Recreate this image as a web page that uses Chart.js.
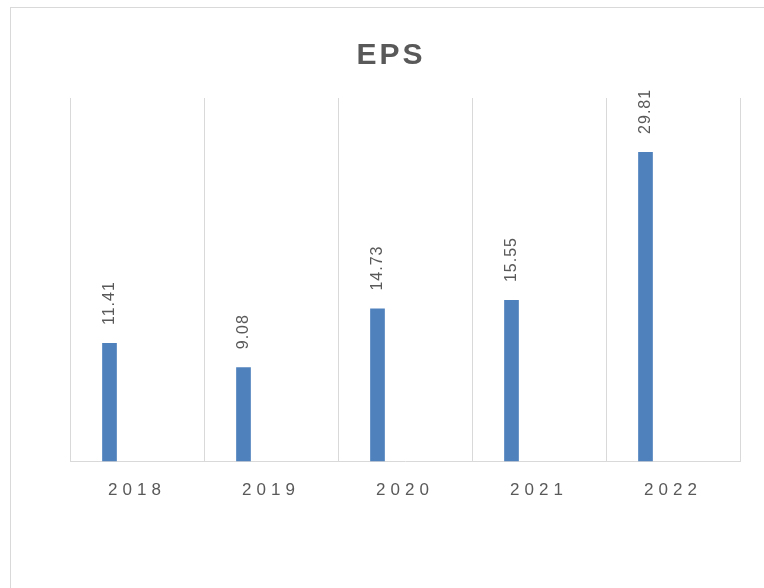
<!DOCTYPE html>
<html>
<head>
<meta charset="utf-8">
<script src="https://cdn.jsdelivr.net/npm/chart.js@4"></script>
<style>
  html, body { margin: 0; padding: 0; background: #fff; overflow: hidden; }
  #frame { position: absolute; left: 10px; top: 7px; width: 800px; height: 620px; border: 1px solid #d9d9d9; }
  #epsChart { position: absolute; left: 0; top: 0; }
</style>
</head>
<body>
<div id="frame">
  <canvas id="epsChart" width="760" height="580"></canvas>
</div>
<script>
// chart data
const years = ["2018", "2019", "2020", "2021", "2022"];
const epsValues = [11.41, 9.08, 14.73, 15.55, 29.81];
const emptySeries = [null, null, null, null, null]; // second (empty) series keeps bars left of centre
const yMin = 0;
const yMax = 35;

const textGray = "#595959";
const barBlue = "#4F81BD";
const lineGray = "#d9d9d9";
const fontFamily = "'Liberation Sans', Arial, sans-serif";

// letter spacing like the spreadsheet style, plus rotated value labels
const spacingAndLabels = {
  id: "spacingAndLabels",
  beforeDraw(chart) {
    chart.ctx.letterSpacing = "3px"; // title
  },
  afterDatasetsDraw(chart) {
    const ctx = chart.ctx;
    const meta = chart.getDatasetMeta(0);
    ctx.save();
    ctx.letterSpacing = "1px";
    ctx.font = "16px " + fontFamily;
    ctx.fillStyle = textGray;
    ctx.textAlign = "left";
    ctx.textBaseline = "middle";
    meta.data.forEach(function (bar, i) {
      ctx.save();
      ctx.translate(bar.x, bar.y - 18);
      ctx.rotate(-Math.PI / 2);
      ctx.fillText(epsValues[i].toFixed(2), 0, 0);
      ctx.restore();
    });
    ctx.restore();
    ctx.letterSpacing = "5px"; // x tick labels are drawn after this (ticks.z = 1)
  },
  afterDraw(chart) {
    chart.ctx.letterSpacing = "0px";
  }
};

// invisible side axes just reserve room, so the title stays centred on the whole chart
function fixedWidth(w) {
  return function (scale) { scale.width = w; };
}

const ctx = document.getElementById("epsChart").getContext("2d");
new Chart(ctx, {
  type: "bar",
  data: {
    labels: years,
    datasets: [
      { label: "EPS", data: epsValues, backgroundColor: barBlue, borderWidth: 0 },
      { label: "", data: emptySeries, backgroundColor: barBlue, borderWidth: 0 }
    ]
  },
  options: {
    responsive: false,
    animation: false,
    devicePixelRatio: 1,
    categoryPercentage: 0.821,
    barPercentage: 0.267,
    layout: { padding: { left: 0, right: 0, top: 0, bottom: 68 } },
    plugins: {
      legend: { display: false },
      tooltip: { enabled: false },
      title: {
        display: true,
        text: "EPS",
        color: textGray,
        font: { family: fontFamily, size: 30, weight: "bold", lineHeight: 1.2 },
        padding: { top: 30, bottom: 24 }
      }
    },
    scales: {
      x: {
        grid: { display: true, color: lineGray, lineWidth: 1, drawTicks: false, offset: true },
        border: { display: true, color: lineGray, width: 1 },
        ticks: {
          z: 1,
          color: textGray,
          padding: 19,
          maxRotation: 0,
          autoSkip: false,
          font: { family: fontFamily, size: 17, lineHeight: 1.2 }
        }
      },
      y: {
        position: "left",
        min: yMin,
        max: yMax,
        grid: { display: false },
        border: { display: false },
        ticks: { display: false },
        afterFit: fixedWidth(59)
      },
      yRight: {
        position: "right",
        min: yMin,
        max: yMax,
        grid: { display: false },
        border: { display: false },
        ticks: { display: false },
        afterFit: fixedWidth(31)
      }
    }
  },
  plugins: [spacingAndLabels]
});
</script>
</body>
</html>
